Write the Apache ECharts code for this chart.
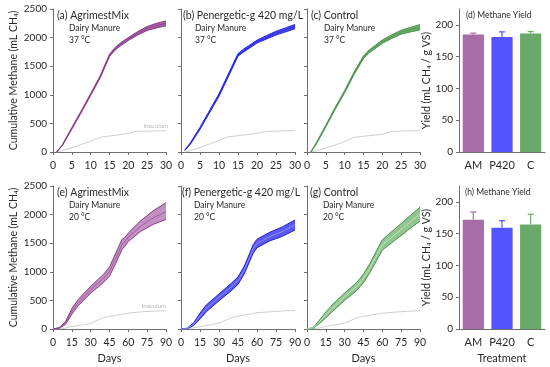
<!DOCTYPE html>
<html><head><meta charset="utf-8">
<script src="https://cdn.jsdelivr.net/npm/echarts@6/dist/echarts.min.js"></script>
<style>html,body{margin:0;padding:0;background:#fff}#c{width:550px;height:367px}</style>
</head><body><div id="c"></div>
<script>
// ---- data ----
const daysTop = [1, 2.5, 5, 7.5, 10, 12.5, 15, 16.5, 18, 20, 22.5, 25, 27.5, 30];
const aMid = [0, 122, 414, 705, 1005, 1310, 1690, 1805, 1885, 1975, 2075, 2160, 2210, 2250];
const aHi  = [0, 130, 428, 720, 1022, 1328, 1710, 1828, 1910, 2002, 2105, 2195, 2250, 2292];
const aLo  = [0, 114, 400, 690, 990, 1292, 1670, 1782, 1860, 1950, 2045, 2125, 2170, 2205];
const bMid = [30, 152, 414, 705, 997, 1347, 1697, 1775, 1840, 1930, 2005, 2075, 2135, 2192];
const bHi  = [35, 165, 432, 725, 1020, 1372, 1720, 1800, 1865, 1955, 2035, 2110, 2170, 2230];
const bLo  = [25, 140, 396, 685, 975, 1322, 1675, 1750, 1815, 1905, 1975, 2045, 2100, 2155];
const cMid = [0, 152, 455, 764, 1055, 1376, 1656, 1760, 1830, 1930, 2015, 2093, 2140, 2180];
const cHi  = [0, 165, 470, 782, 1075, 1398, 1680, 1785, 1858, 1960, 2048, 2130, 2180, 2227];
const cLo  = [0, 140, 440, 748, 1035, 1355, 1632, 1735, 1805, 1900, 1985, 2060, 2100, 2134];
const inocA = [0, 25, 75, 130, 190, 255, 280, 290, 305, 325, 362, 365, 368, 370];
const inocB = [0, 25, 80, 140, 200, 265, 285, 297, 305, 326, 360, 365, 370, 373];
const inocC = [0, 20, 70, 125, 180, 255, 275, 285, 295, 310, 358, 365, 370, 373];

const daysBot = [0, 5, 10, 15, 20, 30, 40, 45, 50, 55, 57, 60, 70, 80, 90];
const eMid = [0, 20, 105, 308, 460, 686, 880, 1005, 1240, 1480, 1520, 1610, 1800, 1946, 2051];
const eHi  = [0, 25, 130, 358, 515, 746, 950, 1085, 1330, 1570, 1590, 1680, 1895, 2070, 2208];
const eLo  = [0, 15, 80, 258, 405, 626, 810, 925, 1150, 1390, 1440, 1530, 1710, 1830, 1917];
const fMid = [0, 10, 85, 227, 361, 554, 740, 845, 1032, 1294, 1400, 1495, 1615, 1702, 1819];
const fHi  = [0, 15, 110, 277, 421, 614, 805, 910, 1100, 1365, 1475, 1570, 1690, 1785, 1906];
const fLo  = [0, 5, 60, 177, 301, 494, 675, 780, 965, 1225, 1325, 1420, 1540, 1620, 1731];
const gMid = [0, 20, 128, 245, 361, 565, 752, 886, 1061, 1265, 1350, 1469, 1650, 1830, 2010];
const gHi  = [0, 28, 158, 295, 421, 630, 822, 961, 1140, 1350, 1440, 1560, 1750, 1940, 2130];
const gLo  = [0, 12, 98, 195, 301, 500, 682, 811, 982, 1180, 1260, 1380, 1550, 1720, 1890];
const inocE = [0, 5, 15, 45, 60, 95, 200, 220, 238, 260, 265, 279, 300, 312, 320];
const inocF = [0, 5, 20, 40, 60, 100, 200, 225, 245, 262, 270, 285, 300, 315, 326];
const inocG = [0, 5, 20, 45, 65, 100, 200, 220, 240, 258, 265, 275, 295, 310, 320];

const treatments = ['AM', 'P420', 'C'];
const yield37 = [185, 181, 186.5];
const err37 = [2, 8, 3];
const yield20 = [172, 159.5, 164.5];
const err20 = [12, 11, 16];

const yTicksBar = [0, 50, 100, 150, 200];

// ---- styling ----
const FONT = 'Lato, "Open Sans", sans-serif';
const AX = '#6e6e6e';
const TXT = '#2a2a2a';
const barColors = ['#a86ca8', '#5454ff', '#69a969'];

const chart = echarts.init(document.getElementById('c'), null, {renderer: 'canvas'});

const gridsPos = [
  {left: 53, top: 9, width: 113, height: 143},
  {left: 181, top: 9, width: 114, height: 143},
  {left: 307, top: 9, width: 113, height: 143},
  {left: 459, top: 9, width: 86, height: 143},
  {left: 53, top: 186, width: 113, height: 143},
  {left: 181, top: 186, width: 114, height: 143},
  {left: 307, top: 186, width: 113, height: 143},
  {left: 459, top: 186, width: 86, height: 143}
];

const zip = (xs, ys) => xs.map((x, i) => [x, ys[i]]);

const xAxes = [], yAxes = [], series = [];
const axLine = {lineStyle: {color: AX, width: 1}};
const axTick = {length: 3, lineStyle: {color: AX, width: 1}};
const axLab = {color: TXT, fontFamily: FONT, fontSize: 10, margin: 6, formatter: v => String(v)};

gridsPos.forEach((g, i) => {
  const isBar = (i % 4) === 3;
  const isTop = i < 4;
  if (isBar) {
    xAxes.push({gridIndex: i, type: 'category', data: treatments, axisLine: axLine, axisTick: {show: false},
      axisLabel: {color: TXT, fontFamily: FONT, fontSize: 11, margin: 8, interval: 0, hideOverlap: false},
      name: isTop ? '' : 'Treatment', nameLocation: 'middle', nameGap: 24,
      nameTextStyle: {color: TXT, fontFamily: FONT, fontSize: 11}});
    yAxes.push({gridIndex: i, type: 'value', min: 0, max: 225, interval: 50,
      axisLine: {show: true, lineStyle: {color: AX}}, axisTick: Object.assign({show: true, customValues: yTicksBar}, axTick),
      axisLabel: Object.assign({}, axLab, {customValues: yTicksBar}), splitLine: {show: false},
      name: 'Yield (mL CH₄ / g VS)', nameLocation: 'middle', nameGap: 27,
      nameTextStyle: {color: TXT, fontFamily: FONT, fontSize: 10.5}});
  } else {
    const first = (i % 4) === 0;
    xAxes.push({gridIndex: i, type: 'value', min: 0, max: isTop ? 30 : 90, interval: isTop ? 5 : 15,
      axisLine: axLine, axisTick: Object.assign({show: true}, axTick),
      axisLabel: Object.assign({}, axLab, {fontSize: 10.5, margin: 8}), splitLine: {show: false},
      name: isTop ? '' : 'Days', nameLocation: 'middle', nameGap: 24,
      nameTextStyle: {color: TXT, fontFamily: FONT, fontSize: 11}});
    yAxes.push({gridIndex: i, type: 'value', min: 0, max: 2500, interval: 500,
      axisLine: {show: true, lineStyle: {color: AX}}, axisTick: Object.assign({show: true}, axTick),
      axisLabel: Object.assign({}, axLab, {show: first}), splitLine: {show: false},
      name: first ? 'Cumulative Methane (mL CH₄)' : '', nameLocation: 'middle', nameGap: 34,
      nameTextStyle: {color: TXT, fontFamily: FONT, fontSize: 10.5}});
  }
});

function band(idx, days, lo, mid, hi, inoc, fill, edge, center, edgeW) {
  series.push({type: 'line', xAxisIndex: idx, yAxisIndex: idx, data: zip(days, inoc), showSymbol: false,
    lineStyle: {color: '#cfcfcf', width: 1}, z: 1, silent: true});
  series.push({type: 'custom', xAxisIndex: idx, yAxisIndex: idx, data: [[0, 0]], z: 2, silent: true,
    renderItem: (params, api) => {
      const pts = [];
      for (let k = 0; k < days.length; k++) pts.push(api.coord([days[k], hi[k]]));
      for (let k = days.length - 1; k >= 0; k--) pts.push(api.coord([days[k], lo[k]]));
      return {type: 'polygon', shape: {points: pts}, style: {fill: fill}};
    }});
  [lo, hi].forEach(v => series.push({type: 'line', xAxisIndex: idx, yAxisIndex: idx, data: zip(days, v),
    showSymbol: false, lineStyle: {color: edge, width: edgeW}, z: 3, silent: true}));
  series.push({type: 'line', xAxisIndex: idx, yAxisIndex: idx, data: zip(days, mid), showSymbol: false,
    lineStyle: {color: center, width: 0.8}, z: 4, silent: true});
}

band(0, daysTop, aLo, aMid, aHi, inocA, '#a562a5', '#8a3c8a', '#8a3c8a', 1);
band(1, daysTop, bLo, bMid, bHi, inocB, '#4848f2', '#2a2ae0', '#2a2ae0', 1);
band(2, daysTop, cLo, cMid, cHi, inocC, '#6aae6a', '#4f944f', '#4f944f', 1);
band(4, daysBot, eLo, eMid, eHi, inocE, '#c490c4', '#8a3c8a', '#94509a', 1);
band(5, daysBot, fLo, fMid, fHi, inocF, '#5a5af2', '#2323c8', '#9a9aff', 1);
band(6, daysBot, gLo, gMid, gHi, inocG, '#8fc78f', '#4c8f4c', '#cfe8cf', 1);

function bars(idx, vals, errs) {
  series.push({type: 'bar', xAxisIndex: idx, yAxisIndex: idx, barWidth: '74%',
    data: vals.map((v, k) => ({value: v, itemStyle: {color: barColors[k]}})), silent: true, z: 2});
  series.push({type: 'custom', xAxisIndex: idx, yAxisIndex: idx, silent: true, z: 3,
    data: vals.map((v, k) => [k, v, errs[k]]),
    renderItem: (params, api) => {
      const k = api.value(0);
      const p0 = api.coord([k, api.value(1)]);
      const p1 = api.coord([k, api.value(1) + api.value(2)]);
      const st = {stroke: barColors[k], lineWidth: 1.2};
      return {type: 'group', children: [
        {type: 'line', shape: {x1: p0[0], y1: p0[1], x2: p1[0], y2: p1[1]}, style: st},
        {type: 'line', shape: {x1: p1[0] - 3, y1: p1[1], x2: p1[0] + 3, y2: p1[1]}, style: st}
      ]};
    }});
}
bars(3, yield37, err37);
bars(7, yield20, err20);

// ---- panel annotations ----
const txt = (x, y, s, size, color, align) => ({type: 'text', left: align === 'right' ? undefined : x,
  right: align === 'right' ? 550 - x : undefined, top: y,
  style: {text: s, fill: color || TXT, font: size + 'px ' + FONT}});
const g = [];
[[57, 10, '(a) AgrimestMix', 69, '37 °C'], [183, 10, '(b) Penergetic-g 420 mg/L', 195, '37 °C'], [311, 10, '(c) Control', 324, '37 °C'],
 [57, 187, '(e) AgrimestMix', 69, '20 °C'], [182, 187, '(f) Penergetic-g 420 mg/L', 194, '20 °C'], [310, 187, '(g) Control', 323, '20 °C']]
 .forEach(p => {
  g.push(txt(p[0], p[1], p[2], 10.5));
  g.push(txt(p[3], p[1] + 14, 'Dairy Manure', 8.5));
  g.push(txt(p[3], p[1] + 26, p[4], 8.5));
 });
g.push(txt(466, 11, '(d) Methane Yield', 8.5));
g.push(txt(465, 188, '(h) Methane Yield', 8.5));
g.push(txt(168, 123, 'Inoculum', 6, '#b5b5b5', 'right'));
g.push(txt(166, 303, 'Inoculum', 6, '#b5b5b5', 'right'));

chart.setOption({
  animation: false,
  backgroundColor: '#ffffff',
  textStyle: {fontFamily: FONT},
  grid: gridsPos,
  xAxis: xAxes,
  yAxis: yAxes,
  series: series,
  graphic: g
});
</script></body></html>
